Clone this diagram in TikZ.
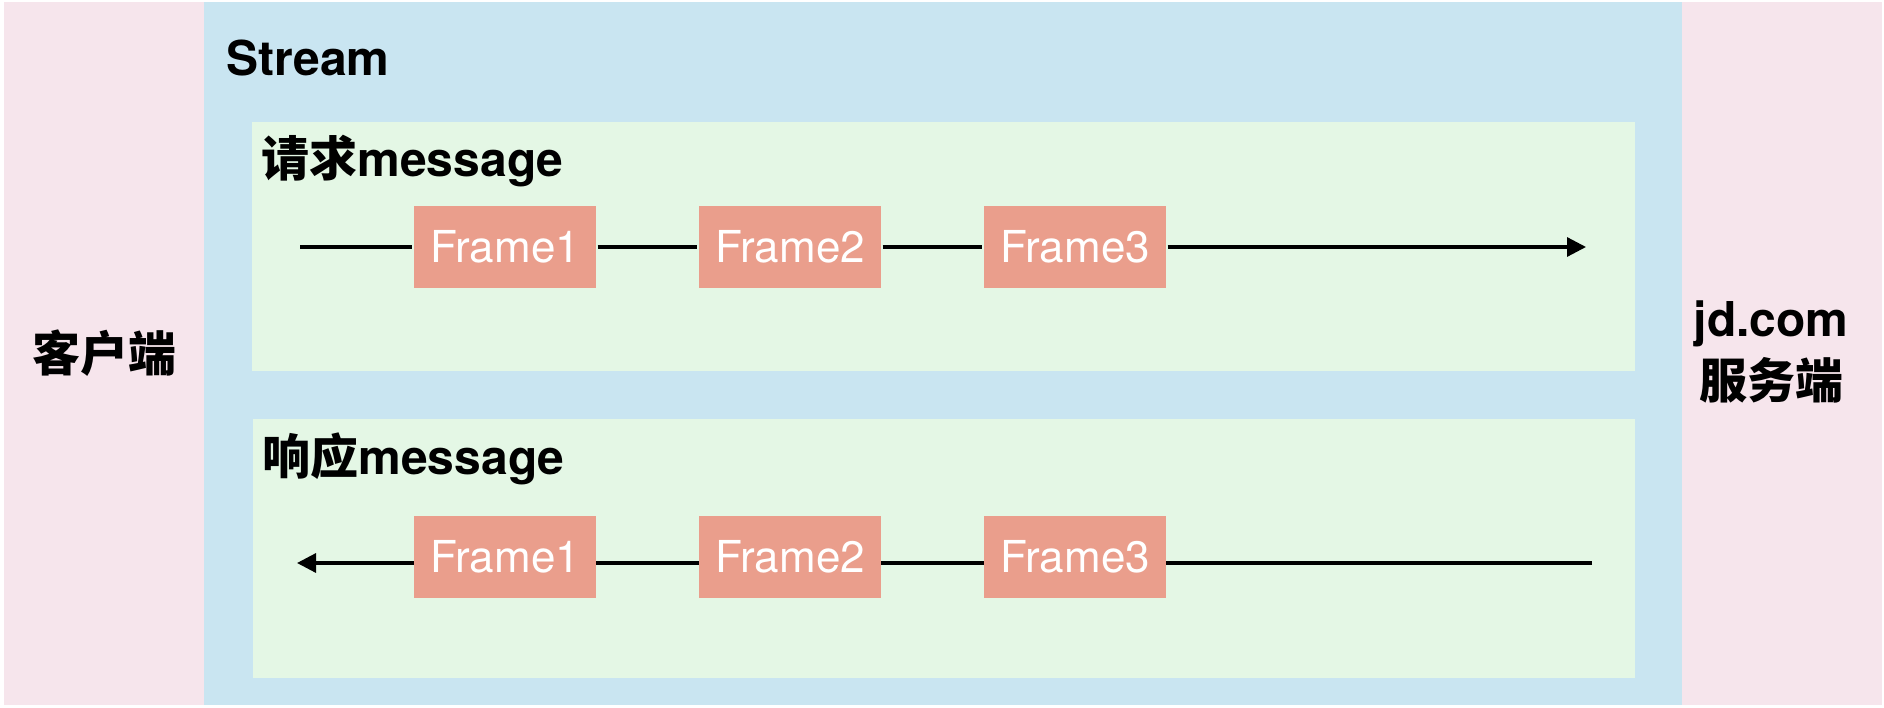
\documentclass[tikz,border=0pt]{standalone}
\usepackage{fontspec}
\setmainfont{TeX Gyre Heros}
\newfontfamily\cjk{Noto Sans CJK SC}
\usetikzlibrary{arrows.meta}
\tikzset{>={Triangle[length=19pt, width=19pt]}}
\definecolor{clp}{RGB}{246,229,236}
\definecolor{clb}{RGB}{201,229,241}
\definecolor{clgn}{RGB}{228,247,229}
\definecolor{clf}{RGB}{234,158,140}
\tikzset{frm/.style={fill=clf, text=white, minimum width=182pt, minimum height=82pt, inner sep=0pt, font=\fontsize{44}{50}\selectfont}}
\tikzset{lbl/.style={inner sep=0pt, font=\fontsize{48}{62}\selectfont\bfseries}}

\begin{document}
\begin{tikzpicture}[x=1pt, y=-1pt, line width=3.2pt]
    \useasboundingbox(0, 0) rectangle (1884, 708);
    \fill[clp](4, 2) rectangle (1882, 705);				%sides
    \fill[clb](204, 2) rectangle (1682, 705);			%stream
    \fill[clgn](252, 122) rectangle (1635, 371);		%request
    \fill[clgn](253, 419) rectangle (1635, 678);		%response
    \node[lbl, anchor=base west](st) at(225, 76){Stream};
    \node[lbl, anchor=base west](rq) at(260, 177){{\cjk 请求}message};
    \node[lbl, anchor=base west](rp) at(261, 474){{\cjk 响应}message};
    \node[lbl](cl) at(104, 353){\cjk 客户端};
    \node[lbl, align=center](sv) at(1771, 352){jd.com\\{\cjk 服务端}};
    % request frames
    \coordinate(qs) at(300, 247);
    \coordinate(qe) at(1586, 247);
    \node[frm](a1) at(505, 247){Frame1};
    \node[frm](a2) at(790, 247){Frame2};
    \node[frm](a3) at(1075, 247){Frame3};
    \draw[->](qs)--(a1)--(a2)--(a3)--(qe);
    % response frames
    \coordinate(rs) at(1592, 563);
    \coordinate(re) at(297, 563);
    \draw[->](rs)--(re);
    \node[frm](b1) at(505, 557){Frame1};
    \node[frm](b2) at(790, 557){Frame2};
    \node[frm](b3) at(1075, 557){Frame3};
\end{tikzpicture}
\end{document}
